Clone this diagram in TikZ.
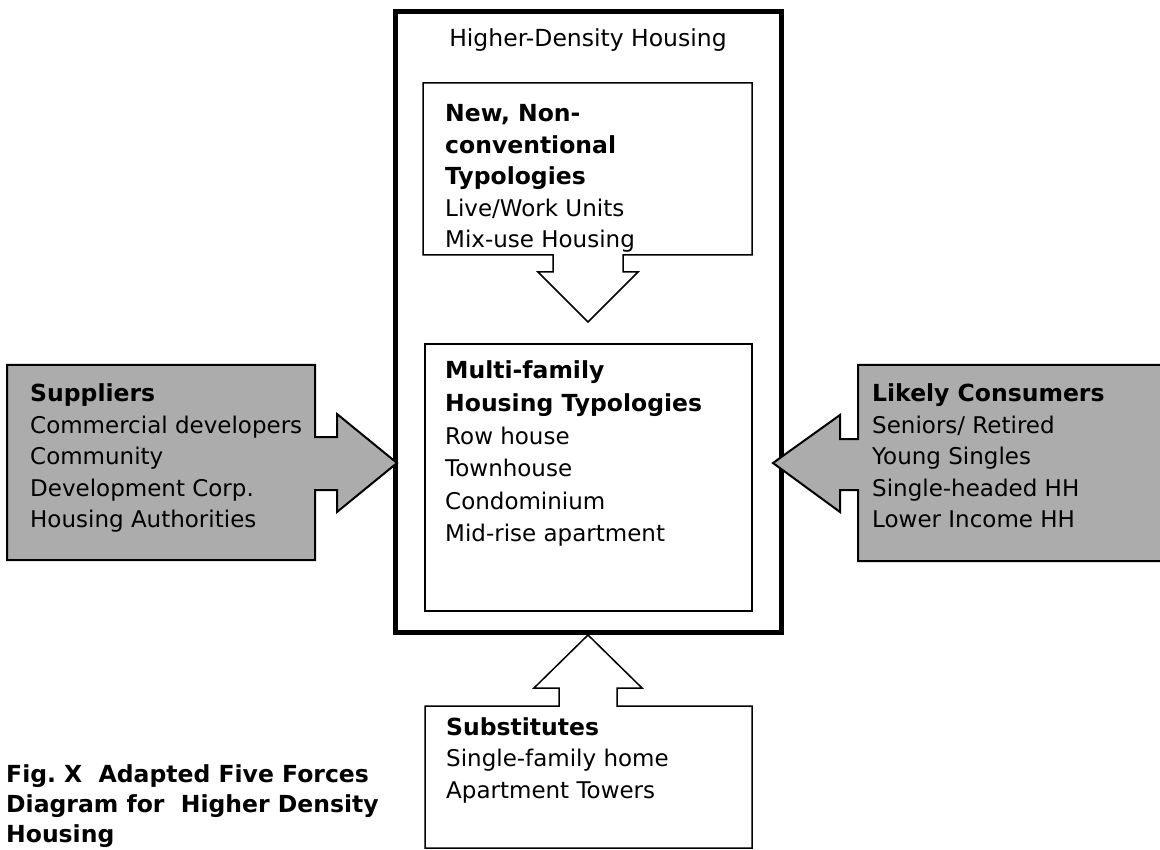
\documentclass[tikz,border=0pt]{standalone}
\usepackage{fontspec}
\setmainfont{DejaVu Sans}
\frenchspacing
\definecolor{grayfill}{RGB}{172,172,172}
\newcommand{\boxlines}[2]{\vtop{\baselineskip=#1\relax\lineskiplimit=-100pt\lineskip=0pt #2}}
\newcommand{\bl}[1]{\hbox{\fontsize{23.5}{30}\selectfont\bfseries #1}}
\newcommand{\nl}[1]{\hbox{\fontsize{23}{30}\selectfont #1}}
\begin{document}
\begin{tikzpicture}[x=1pt,y=-1pt,
  txt/.style={inner sep=0pt, anchor=base west},
  outerbox/.style={draw=black, line width=5pt},
  thinbox/.style={draw=black, line width=1.5pt, fill=white, line join=miter},
  graybox/.style={draw=black, line width=2pt, fill=grayfill, line join=miter}]
\useasboundingbox (0,0) rectangle (1160,850);
\fill[white] (0,0) rectangle (1160,850);

% outer frame
\draw[outerbox] (395,12) rectangle (781,632);
\node[inner sep=0pt, anchor=base] (title) at (588,47) {\fontsize{23.5}{30}\selectfont Higher-Density Housing};

% new typologies box with down arrow
\coordinate (newtip) at (588,322);
\draw[thinbox] (553,255) -- (423,255) -- (423,83) -- (752,83) -- (752,255) -- (623,255)
  -- (623,272) -- (638,272) -- (newtip) -- (538,272) -- (553,272) -- cycle;
\node[txt] (new) at (445,122) {\boxlines{31.5pt}{\bl{New, Non-}\bl{conventional}\bl{Typologies}\nl{Live/Work Units}\nl{Mix-use Housing}}};

% multi-family box
\draw[thinbox] (425,344) rectangle (752,611);
\node[txt] (multi) at (445,379) {\boxlines{32.6pt}{\bl{Multi-family}\bl{Housing Typologies}\nl{Row house}\nl{Townhouse}\nl{Condominium}\nl{Mid-rise apartment}}};

% suppliers
\coordinate (suptip) at (397,463);
\draw[graybox] (7,365) -- (315,365) -- (315,437) -- (337,437) -- (337,414) -- (suptip)
  -- (337,512) -- (337,490) -- (315,490) -- (315,560) -- (7,560) -- cycle;
\node[txt] (sup) at (30,402) {\boxlines{31.5pt}{\bl{Suppliers}\nl{Commercial developers}\nl{Community}\nl{Development Corp.}\nl{Housing Authorities}}};

% likely consumers
\coordinate (contip) at (773,463);
\draw[graybox] (1170,365) -- (858,365) -- (858,439) -- (840,439) -- (840,415) -- (contip)
  -- (840,512) -- (840,490) -- (858,490) -- (858,561) -- (1170,561) -- cycle;
\node[txt] (con) at (872,402) {\boxlines{31.5pt}{\bl{Likely Consumers}\nl{Seniors/ Retired}\nl{Young Singles}\nl{Single-headed HH}\nl{Lower Income HH}}};

% substitutes with up arrow
\coordinate (subtip) at (588,635);
\draw[thinbox] (425,848) -- (425,706) -- (559,706) -- (559,688) -- (534,688) -- (subtip)
  -- (642,688) -- (617,688) -- (617,706) -- (752,706) -- (752,848) -- cycle;
\node[txt] (sub) at (446,735) {\boxlines{31.5pt}{\bl{Substitutes}\nl{Single-family home}\nl{Apartment Towers}}};

% caption
\node[txt] (cap) at (6,782) {\boxlines{30pt}{\bl{Fig. X\ \ Adapted Five Forces}\bl{Diagram for\ \ Higher Density}\bl{Housing}}};
\end{tikzpicture}
\end{document}
